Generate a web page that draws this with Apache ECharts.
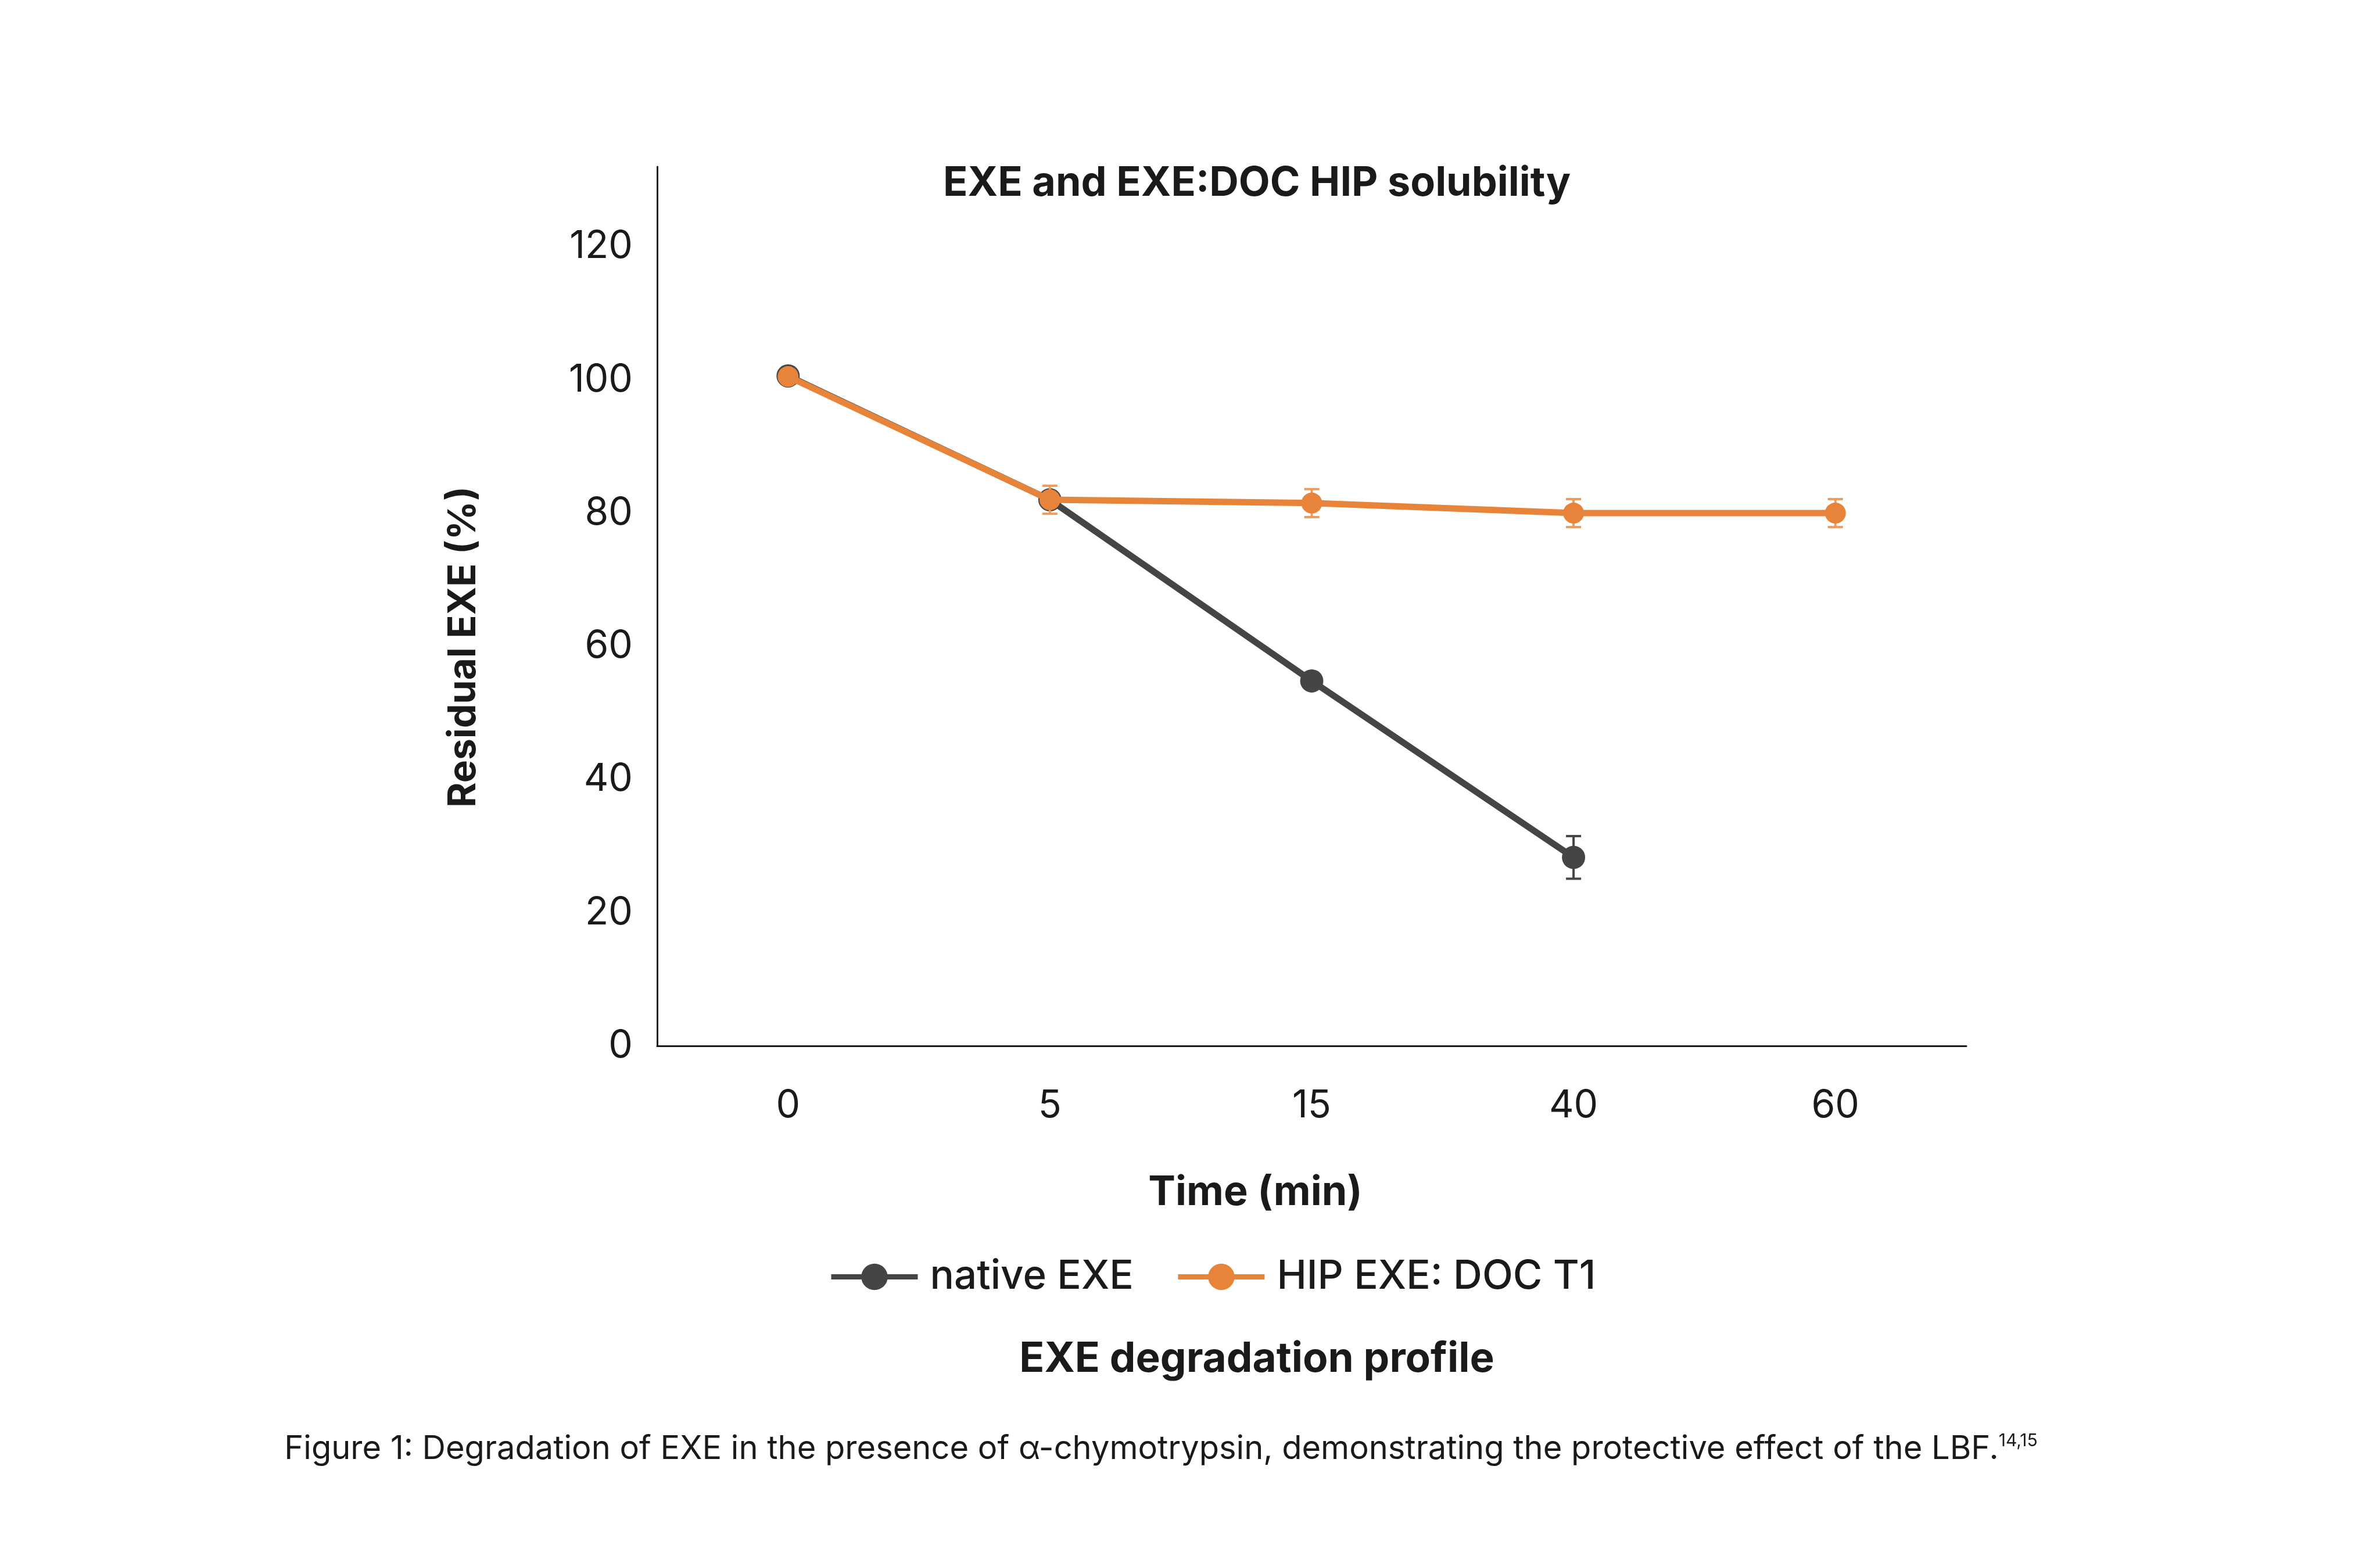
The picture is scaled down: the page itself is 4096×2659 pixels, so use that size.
<!DOCTYPE html>
<html>
<head>
<meta charset="utf-8">
<script src="https://cdn.jsdelivr.net/npm/echarts@6/dist/echarts.min.js"></script>
<style>
html, body { margin: 0; padding: 0; background: #fff; }
#chart { width: 4096px; height: 2659px; }
</style>
</head>
<body>
<div id="chart"></div>
<script>
const timeLabels = ["0", "5", "15", "40", "60"]
const nativeExe = [100.6, 82.0, 54.8, 28.3]
const nativeErr = [0, 1.0, 1.0, 3.2]
const hipExe = [100.5, 82.0, 81.5, 80.0, 80.0]
const hipErr = [0, 2.1, 2.1, 2.1, 2.1]
const yTicks = [0, 20, 40, 60, 80, 100, 120]

const FONT = "Inter, 'Noto Sans', sans-serif"
const INK = "#1a1a1a"
const GREY = "#454545"
const ORANGE = "#e8843a"

// [category index, low, high] for the error bars
const errorRows = (vals, errs) =>
  vals.map((v, i) => [i, v - errs[i], v + errs[i]]).filter((r, i) => errs[i] > 0)

const errorBar = (color) => (params, api) => {
  const lo = api.coord([api.value(0), api.value(1)])
  const hi = api.coord([api.value(0), api.value(2)])
  const half = 13
  const style = { stroke: color, lineWidth: 4 }
  return {
    type: "group",
    children: [
      { type: "line", shape: { x1: hi[0], y1: hi[1], x2: lo[0], y2: lo[1] }, style },
      { type: "line", shape: { x1: hi[0] - half, y1: hi[1], x2: hi[0] + half, y2: hi[1] }, style },
      { type: "line", shape: { x1: lo[0] - half, y1: lo[1], x2: lo[0] + half, y2: lo[1] }, style },
    ],
  }
}

const chart = echarts.init(document.getElementById("chart"), null, { renderer: "canvas" })
chart.setOption({
  backgroundColor: "#fff",
  animation: false,
  textStyle: { fontFamily: FONT, color: INK },
  title: [
    {
      text: "EXE and EXE:DOC HIP solubility",
      left: 2163, top: 316, textAlign: "center", textVerticalAlign: "middle", padding: 0,
      textStyle: { fontFamily: FONT, fontSize: 70, fontWeight: "bold", color: INK },
    },
    {
      text: "EXE degradation profile",
      left: 2163, top: 2340, textAlign: "center", textVerticalAlign: "middle", padding: 0,
      textStyle: { fontFamily: FONT, fontSize: 71, fontWeight: "bold", color: INK },
    },
    {
      text: "Figure 1: Degradation of EXE in the presence of \u03b1-chymotrypsin, demonstrating the protective effect of the LBF.{sup|14,15}",
      left: 1998, top: 2494, textAlign: "center", textVerticalAlign: "middle", padding: 0,
      textStyle: {
        fontFamily: FONT, fontSize: 56, fontWeight: "normal", color: INK,
        rich: { sup: { fontFamily: FONT, fontSize: 30, fontWeight: "normal", color: INK, verticalAlign: "top", padding: [0, 0, 28, 0] } },
      },
    },
  ],
  legend: {
    data: ["native EXE", "HIP EXE: DOC T1"],
    left: 1421, top: 2158,
    itemWidth: 149, itemHeight: 57, itemGap: 72,
    lineStyle: { width: 9 },
    textStyle: { fontFamily: FONT, fontSize: 69, fontWeight: 500, color: INK, padding: [0, 0, 0, 16] },
  },
  grid: { left: 1131, right: 712, top: 287, bottom: 859, containLabel: false },
  xAxis: {
    type: "category",
    data: timeLabels,
    boundaryGap: true,
    name: "Time (min)",
    nameLocation: "middle",
    nameGap: 218,
    nameTextStyle: { fontFamily: FONT, fontSize: 70, fontWeight: "bold", color: INK, padding: [0, 194, 0, 0] },
    axisLine: { lineStyle: { color: INK, width: 3 } },
    axisTick: { show: false },
    axisLabel: { fontFamily: FONT, fontSize: 66, color: INK, margin: 70 },
    splitLine: { show: false },
  },
  yAxis: {
    type: "value",
    min: yTicks[0],
    max: 132,
    interval: yTicks[1] - yTicks[0],
    name: "Residual EXE (%)",
    nameLocation: "middle",
    nameGap: 300,
    nameTextStyle: { fontFamily: FONT, fontSize: 66, fontWeight: "bold", color: INK, padding: [0, 140, 0, 0] },
    axisLine: { show: true, lineStyle: { color: INK, width: 3 } },
    axisTick: { show: false },
    axisLabel: { fontFamily: FONT, fontSize: 66, color: INK, margin: 42, showMaxLabel: false },
    splitLine: { show: false },
  },
  series: [
    {
      type: "custom",
      renderItem: errorBar(GREY),
      data: errorRows(nativeExe, nativeErr),
      encode: { x: 0, y: [1, 2] },
      z: 1,
      silent: true,
    },
    {
      name: "native EXE",
      type: "line",
      data: nativeExe,
      color: GREY,
      symbol: "circle",
      symbolSize: 40,
      lineStyle: { width: 11, color: GREY },
      itemStyle: { color: GREY },
      z: 2,
    },
    {
      type: "custom",
      renderItem: errorBar("#eb9c5e"),
      data: errorRows(hipExe, hipErr),
      encode: { x: 0, y: [1, 2] },
      z: 3,
      silent: true,
    },
    {
      name: "HIP EXE: DOC T1",
      type: "line",
      data: hipExe,
      color: ORANGE,
      symbol: "circle",
      symbolSize: 36,
      lineStyle: { width: 11, color: ORANGE },
      itemStyle: { color: ORANGE },
      z: 4,
    },
  ],
})
</script>
</body>
</html>
